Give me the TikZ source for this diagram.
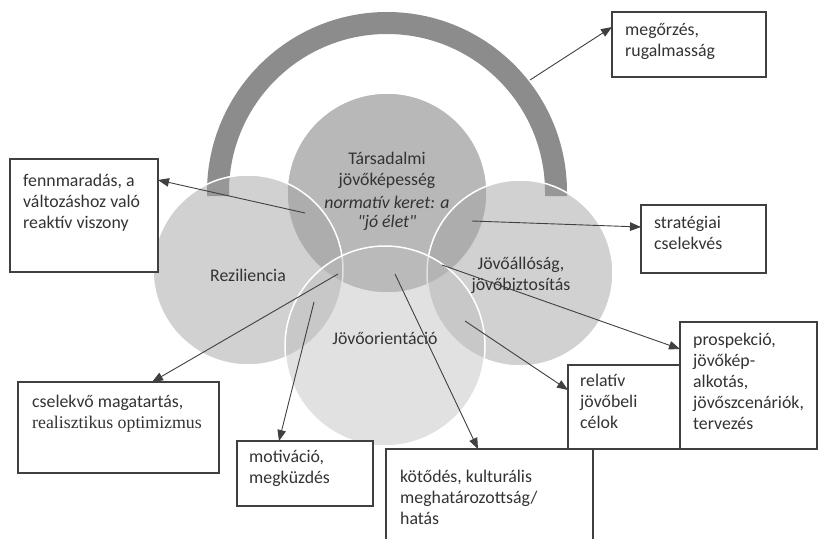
\documentclass[tikz,border=0pt]{standalone}
\usepackage{fontspec}
\setmainfont{Carlito}
\newfontfamily\qfont{Carlito}
\newfontfamily\timesf{Liberation Serif}
\usetikzlibrary{arrows.meta,calc}
\definecolor{txt}{HTML}{333333}
\definecolor{edge}{HTML}{404040}
\definecolor{arcgray}{HTML}{8C8C8C}
\begin{document}
\begin{tikzpicture}[x=1pt,y=-1pt,
  bigfont/.style={font=\fontsize{17.8}{21}\selectfont, text=txt},
  venn/.style={circle, draw=white, line width=1.5pt, inner sep=0pt, outer sep=0pt},
  box/.style={rectangle, draw=edge, line width=1.1pt, fill=white, inner sep=0pt, outer sep=0pt, anchor=north west},
  boxtext/.style={bigfont, anchor=north west, inner sep=0pt, align=left},
  ctext/.style={bigfont, inner sep=0pt, align=center},
  ar/.style={draw=edge, line width=0.9pt, -{Triangle[length=11pt,width=8.5pt]}}
]
\useasboundingbox (0,0) rectangle (818,538);
% arc
\draw[arcgray, line width=22pt] (218,196) -- (218,192) arc[start angle=180, end angle=0, radius=169pt] -- (556,196);
% circles
\node[venn, fill=black!28, minimum size=200pt] (top) at (387,193) {};
\node[venn, fill=black!36, fill opacity=0.5, minimum size=190pt] (left) at (248,270) {};
\node[venn, fill=black!36, fill opacity=0.5, minimum size=186pt] (right) at (520,273) {};
\node[venn, fill=black!26, fill opacity=0.45, minimum size=200pt] (bottom) at (385,346) {};
% circle labels
\node[ctext] (ltop) at (387,170) {Társadalmi\\jövőképesség};
\node[ctext, font=\fontsize{17.8}{19}\selectfont\itshape] (ltop2) at (387,213) {normatív keret: a\\{\qfont\itshape "}jó élet{\qfont\itshape "}};
\node[ctext] (lleft) at (248,275) {Reziliencia};
\node[ctext] (lright) at (521,275) {Jövőállóság,\\jövőbiztosítás};
\node[ctext] (lbottom) at (385,338) {Jövőorientáció};
% boxes
\node[box, minimum width=154pt, minimum height=65pt] (meg) at (612,12) {};
\node[box, minimum width=148pt, minimum height=113pt] (fenn) at (10,159) {};
\node[box, minimum width=125pt, minimum height=68pt] (strat) at (641,205) {};
\node[box, minimum width=137pt, minimum height=127pt] (prosp) at (680,322) {};
\node[box, minimum width=112pt, minimum height=84pt] (rel) at (568,365) {};
\node[box, minimum width=201pt, minimum height=91pt] (csel) at (18,382) {};
\node[box, minimum width=136pt, minimum height=65pt] (motiv) at (237,441) {};
\node[box, minimum width=207pt, minimum height=95pt] (kot) at (386,449) {};
% box texts
\node[boxtext] (tmeg) at ($(meg.north west)+(13,8.3)$) {\strut megőrzés,\\rugalmasság};
\node[boxtext] (tfenn) at ($(fenn.north east)+(-135,12.3)$) {\strut fennmaradás, a\\változáshoz való\\reaktív viszony};
\node[boxtext] (tstrat) at ($(strat.north west)+(13,8.3)$) {\strut stratégiai\\cselekvés};
\node[boxtext] (tprosp) at ($(prosp.north west)+(13,8.3)$) {\strut prospekció,\\jövőkép-\\alkotás,\\jövőszcenáriók,\\tervezés};
\node[boxtext] (trel) at ($(rel.north west)+(12,6.3)$) {\strut relatív\\jövőbeli\\célok};
\node[boxtext] (tcsel) at ($(csel.north west)+(14,10.3)$) {\strut cselekvő magatartás,\\{\timesf realisztikus optimizmus}};
\node[boxtext] (tmotiv) at ($(motiv.north west)+(12,6.3)$) {\strut motiváció,\\megküzdés};
\node[boxtext] (tkot) at ($(kot.north west)+(14,18.3)$) {\strut kötődés, kulturális\\meghatározottság/\\hatás};
% start points
\coordinate (sA) at (530,80);
\coordinate (sB) at (305,213);
\coordinate (sC) at (472,221);
\coordinate (sD) at (442,265);
\coordinate (sE) at (465,321);
\coordinate (sF) at (338,274);
\coordinate (sG) at (314,302);
\coordinate (sH) at (395,274);
% arrows
\draw[ar] (sA) -- ($(meg.north west)+(0,15)$);
\draw[ar] (sB) -- ($(fenn.north east)+(0,21)$);
\draw[ar] (sC) -- ($(strat.north west)+(0,22)$);
\draw[ar] (sD) -- ($(prosp.north west)+(0,27)$);
\draw[ar] (sE) -- ($(rel.north west)+(0,25)$);
\draw[ar] (sF) -- ($(csel.north west)+(134,0)$);
\draw[ar] (sG) -- ($(motiv.north west)+(42,0)$);
\draw[ar] (sH) -- ($(kot.north west)+(92,0)$);
\end{tikzpicture}
\end{document}
